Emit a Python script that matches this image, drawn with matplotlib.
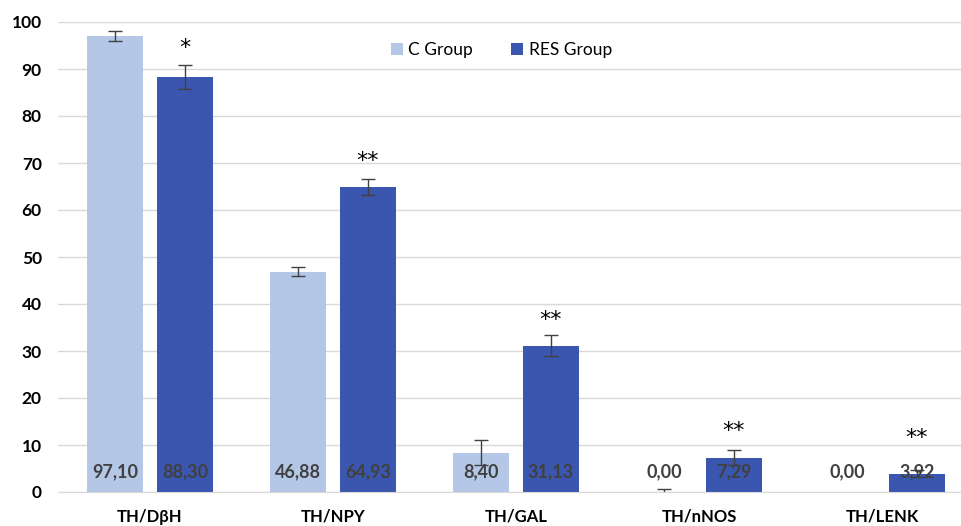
import numpy as np
import matplotlib
matplotlib.use('Agg')
import matplotlib.pyplot as plt

plt.rcParams['font.family'] = ['Lato', 'DejaVu Sans']

categories = ['TH/DβH', 'TH/NPY', 'TH/GAL', 'TH/nNOS', 'TH/LENK']
c_group = [97.10, 46.88, 8.40, 0.00, 0.00]
res_group = [88.30, 64.93, 31.13, 7.29, 3.92]
c_err = [1.05, 1.0, 2.6, 0.6, 0.0]
res_err = [2.5, 1.7, 2.3, 1.6, 0.8]
stars = ['*', '**', '**', '**', '**']
star_y = [94.5, 70.5, 36.5, 13, 11.5]

W, H = 962, 526
fig = plt.figure(figsize=(W / 100, H / 100), dpi=100)
ax = fig.add_axes([58.5 / W, 34 / H, 915 / W, 470 / H])

x = np.arange(len(categories))
bw = 56 / 183
off = 35 / 183
light = '#B4C7E7'
dark = '#3A56AF'

ax.bar(x - off, c_group, bw, color=light, label='C Group', zorder=2)
ax.bar(x + off, res_group, bw, color=dark, label='RES Group', zorder=2)

# only draw error bars where there is one
c_mask = np.array(c_err) > 0
ax.errorbar((x - off)[c_mask], np.array(c_group)[c_mask], yerr=np.array(c_err)[c_mask],
            fmt='none', ecolor='#404040', elinewidth=1, capsize=5, capthick=1, zorder=3)
ax.errorbar(x + off, res_group, yerr=res_err, fmt='none', ecolor='#404040',
            elinewidth=1, capsize=5, capthick=1, zorder=3)

for i in range(len(categories)):
    ax.text(x[i] - off, 4.3, f'{c_group[i]:.2f}'.replace('.', ','), ha='center', va='center',
            fontsize=13, fontweight='bold', color='#404040', zorder=4)
    ax.text(x[i] + off, 4.3, f'{res_group[i]:.2f}'.replace('.', ','), ha='center', va='center',
            fontsize=13, fontweight='bold', color='#404040', zorder=4)
    ax.text(x[i] + off, star_y[i], stars[i], ha='center', va='center',
            fontsize=16, color='black', fontfamily='DejaVu Sans')

ax.set_xlim(-0.5, 4.5)
ax.set_ylim(0, 100)
ax.set_yticks(np.arange(0, 101, 10))
ax.set_xticks(x)
ax.set_xticklabels(categories, fontweight='bold', fontsize=12)
for lab in ax.get_yticklabels():
    lab.set_fontweight('bold')
    lab.set_fontsize(12.5)
ax.tick_params(axis='both', length=0)
ax.tick_params(axis='x', pad=12)
ax.tick_params(axis='y', pad=12)
ax.yaxis.grid(True, color='#D9D9D9', linewidth=1, zorder=0)
for s in ['top', 'right', 'left']:
    ax.spines[s].set_visible(False)
ax.spines['bottom'].set_color('#D9D9D9')

ax.legend(loc='upper center', bbox_to_anchor=(0.484, 0.99), ncol=2, frameon=False,
          fontsize=12.5, handlelength=0.7, handleheight=0.7, columnspacing=2.2, handletextpad=0.3)

fig.savefig('out.png', dpi=100)
